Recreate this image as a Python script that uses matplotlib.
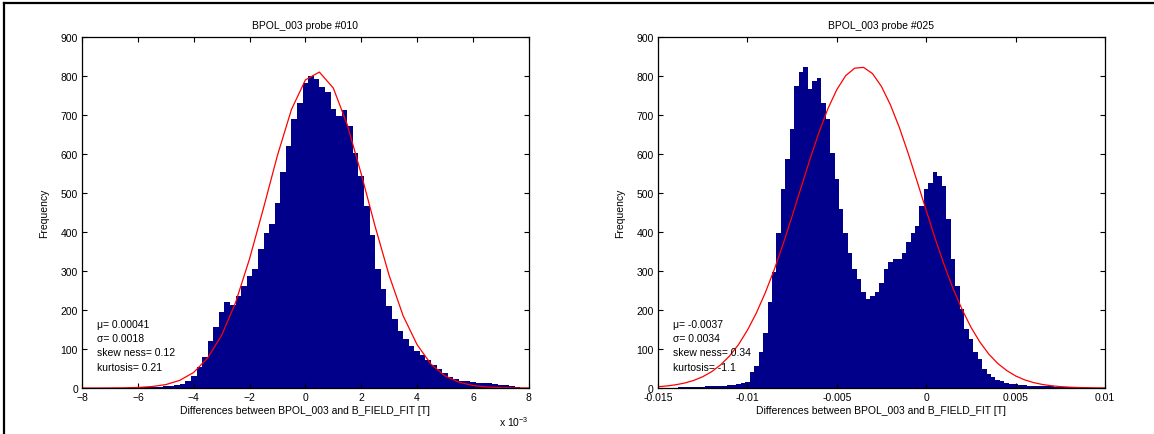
import matplotlib.pyplot as plt
from matplotlib.lines import Line2D

# probe #010 : bin centres (x 10^-3 T, step 0.2) and counts
left_centres = [-7.8 + 0.2 * i for i in range(79)]
left_counts = [0, 0, 0, 0, 1, 1, 1, 1, 2, 2,
               2, 2, 3, 3, 5, 6, 8, 11, 17, 30,
               55, 80, 120, 155, 195, 220, 212, 236, 262, 288,
               305, 355, 398, 420, 475, 552, 620, 689, 731, 780,
               800, 790, 772, 757, 714, 697, 712, 672, 603, 544,
               467, 392, 305, 253, 211, 177, 147, 125, 108, 95,
               84, 72, 58, 48, 38, 28, 23, 19, 17, 15,
               13, 12, 12, 10, 9, 7, 5, 3, 1]

# fitted normal curve for #010, read at 0.5 x 10^-3 steps
left_fit_x = [-8 + 0.5 * i for i in range(33)]
left_fit_y = [0, 0, 0.2, 0.5, 1.4, 3.7, 8.8, 19.6, 40, 77,
              135, 219, 331, 461, 596, 713, 789, 809, 768, 674,
              548, 413, 288, 185, 111, 61, 31, 15, 6.5, 2.7,
              1, 0.4, 0.1]

# probe #025 : bin centres (x 10^-3 T, step 0.25) and counts
right_centres = [-14.5 + 0.25 * i for i in range(97)]
right_counts = [1, 1, 1, 2, 2, 2, 3, 3, 3, 4,
                4, 5, 5, 6, 7, 9, 10, 13, 16, 40,
                57, 91, 142, 219, 296, 398, 509, 586, 663, 774,
                808, 822, 765, 787, 795, 731, 689, 603, 535, 458,
                398, 347, 305, 279, 245, 228, 236, 245, 270, 305,
                322, 330, 330, 347, 373, 398, 415, 467, 509, 526,
                552, 543, 518, 433, 330, 262, 202, 151, 125, 91,
                74, 49, 36, 27, 21, 17, 13, 11, 10, 8,
                7, 6, 5, 5, 4, 4, 4, 3, 3, 3,
                2, 2, 1, 0, 0, 0, 0]

right_fit_x = [-15 + 0.5 * i for i in range(51)]
right_fit_y = [3.3, 5.3, 8.4, 12.9, 19.5, 28.9, 41.8, 59.2, 82, 111,
               148, 192, 244, 303, 369, 440, 513, 586, 654, 715,
               764, 800, 819, 821, 805, 772, 725, 667, 600, 528,
               455, 383, 316, 255, 202, 156, 118, 87, 63, 45,
               31, 21, 14, 9.1, 5.8, 3.6, 2.2, 1.3, 0.8, 0.4,
               0.2]

titles = ['BPOL_003 probe #010', 'BPOL_003 probe #025']
stats = [['\u03bc= 0.00041', '\u03c3= 0.0018', 'skew ness= 0.12', 'kurtosis= 0.21'],
         ['\u03bc= -0.0037', '\u03c3= 0.0034', 'skew ness= 0.34', 'kurtosis= -1.1']]
right_ticks = [-0.015, -0.01, -0.005, 0, 0.005, 0.01]
right_ticklabels = ['-0.015', '-0.01', '-0.005', '0', '0.005', '0.01']

plt.rcParams['font.family'] = ['Liberation Sans', 'DejaVu Sans']
plt.rcParams['font.size'] = 7.5
plt.rcParams['mathtext.fontset'] = 'custom'
plt.rcParams['mathtext.rm'] = 'Liberation Sans'
plt.rcParams['mathtext.default'] = 'regular'

navy = '#00008B'
fig = plt.figure(figsize=(11.54, 4.35), dpi=100)
ax1 = fig.add_axes([0.0711, 0.1057, 0.3871, 0.808])
ax2 = fig.add_axes([0.5702, 0.1057, 0.3873, 0.808])

ax1.bar(left_centres, left_counts, width=0.2, color=navy, edgecolor='none', linewidth=0)
ax1.plot(left_fit_x, left_fit_y, color='red', lw=0.9)
ax1.set_xlim(-8, 8)
ax1.set_xticks(range(-8, 9, 2))
ax1.text(1.0, -0.075, r'x 10$^{-3}$', transform=ax1.transAxes, ha='right', va='top', fontsize=7.5)

rx = [c * 1e-3 for c in right_centres]
ax2.bar(rx, right_counts, width=0.25e-3, color=navy, edgecolor='none', linewidth=0)
ax2.plot([v * 1e-3 for v in right_fit_x], right_fit_y, color='red', lw=0.9)
ax2.set_xlim(-0.015, 0.01)
ax2.set_xticks(right_ticks)
ax2.set_xticklabels(right_ticklabels)

for ax, t, st in zip([ax1, ax2], titles, stats):
    ax.set_ylim(0, 900)
    ax.set_yticks(range(0, 901, 100))
    ax.set_title(t, fontsize=7.5, pad=6)
    ax.set_xlabel('Differences between BPOL_003 and B_FIELD_FIT [T]', labelpad=2)
    ax.set_ylabel('Frequency', labelpad=8)
    ax.tick_params(direction='in', top=True, right=True, length=3.5, width=0.8, pad=3)
    for s in ax.spines.values():
        s.set_linewidth(0.9)
    for k, line in enumerate(st):
        ax.text(0.034, 0.183 - k * 0.0407, line, transform=ax.transAxes, va='center', ha='left')

# outer border of the exported figure
fig.add_artist(Line2D([3.5 / 1154, 3.5 / 1154], [0, 1 - 4 / 435], color='black', lw=1.6, transform=fig.transFigure))
fig.add_artist(Line2D([3.5 / 1154, 1], [1 - 4 / 435, 1 - 4 / 435], color='black', lw=1.6, transform=fig.transFigure))

plt.savefig('out.png', dpi=100)
